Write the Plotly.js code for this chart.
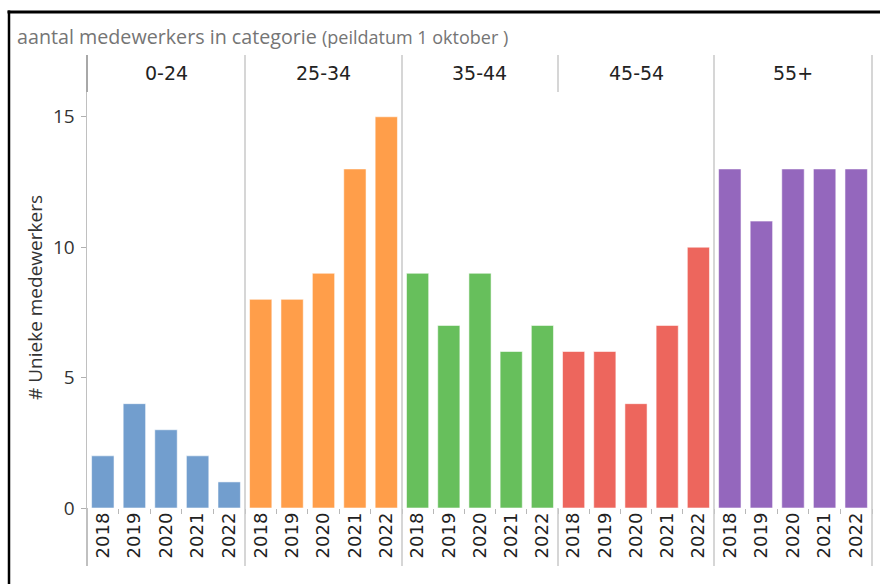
<!DOCTYPE html>
<html>
<head>
<meta charset="utf-8">
<script src="https://cdn.plot.ly/plotly-3.0.1.min.js"></script>
<style>
  html, body { margin: 0; padding: 0; background: #fff; }
  #chart { width: 880px; height: 584px; }
</style>
</head>
<body>
<div id="chart"></div>
<script>
// ---- data ----
const groups = ['0-24', '25-34', '35-44', '45-54', '55+'];
const years = ['2018', '2019', '2020', '2021', '2022'];
const v_0_24  = [2, 4, 3, 2, 1];
const v_25_34 = [8, 8, 9, 13, 15];
const v_35_44 = [9, 7, 9, 6, 7];
const v_45_54 = [6, 6, 4, 7, 10];
const v_55    = [13, 11, 13, 13, 13];
const values = [v_0_24, v_25_34, v_35_44, v_45_54, v_55];
const colors = ['#729ECE', '#FF9E4A', '#67BF5C', '#ED665D', '#9467BD'];
const yTicks = [0, 5, 10, 15];
const titleMain = 'aantal medewerkers in categorie';
const titleSub = '(peildatum 1 oktober )';
const yTitle = '# Unieke medewerkers';

// ---- layout helpers (pixel geometry) ----
const W = 880, H = 584;
const colEdges = [87, 245, 402, 558, 714, 872];
const plotTop = 92, plotBottom = 508;
const px = x => x / W;
const py = y => 1 - y / H;

const sansA = '"Open Sans", "Noto Sans", sans-serif';
const sansB = '"DejaVu Sans", Verdana, sans-serif';

const traces = [];
const layout = {
  width: W, height: H,
  margin: {l: 0, r: 0, t: 0, b: 0, pad: 0},
  paper_bgcolor: '#fff', plot_bgcolor: '#fff',
  showlegend: false,
  bargap: 0.29,
  font: {family: sansA, color: '#333'},
  yaxis: {
    domain: [py(plotBottom), py(plotTop)],
    range: [0, 15.95],
    tickvals: yTicks,
    ticks: 'outside', ticklen: 5, tickcolor: '#b0b0b0', tickwidth: 1,
    showline: true, linecolor: '#c0c0c0', linewidth: 1.5,
    showgrid: false, zeroline: false,
    tickfont: {family: sansA, size: 19, color: '#333'},
    ticklabelstandoff: 2,
    anchor: 'x', fixedrange: true
  },
  shapes: [],
  annotations: []
};

groups.forEach((g, i) => {
  const ax = i === 0 ? 'x' : 'x' + (i + 1);
  const axKey = i === 0 ? 'xaxis' : 'xaxis' + (i + 1);
  traces.push({
    type: 'bar',
    x: years,
    y: values[i],
    xaxis: ax, yaxis: 'y',
    marker: {color: colors[i], line: {color: 'rgba(255,255,255,0.55)', width: 1}},
    hoverinfo: 'x+y'
  });
  layout[axKey] = {
    domain: [px(colEdges[i]), px(colEdges[i + 1])],
    type: 'category',
    anchor: 'y',
    tickson: 'boundaries',
    ticks: 'outside', ticklen: 5, tickcolor: '#b8b8b8', tickwidth: 1,
    tickangle: -90,
    tickfont: {family: sansB, size: 18, color: '#222'},
    showline: false, showgrid: false, zeroline: false,
    fixedrange: true
  };
  layout.annotations.push({
    xref: 'paper', yref: 'paper',
    x: px((colEdges[i] + colEdges[i + 1]) / 2), y: py(73),
    xanchor: 'center', yanchor: 'middle',
    text: g, showarrow: false,
    font: {family: sansB, size: 19, color: '#222'}
  });
});

function vline(x, y0, y1, color, width) {
  layout.shapes.push({type: 'line', xref: 'paper', yref: 'paper',
    x0: px(x), x1: px(x), y0: py(y0), y1: py(y1),
    line: {color: color, width: width}});
}
function hline(y, x0, x1, color, width) {
  layout.shapes.push({type: 'line', xref: 'paper', yref: 'paper',
    x0: px(x0), x1: px(x1), y0: py(y), y1: py(y),
    line: {color: color, width: width}});
}

// header / facet separators
vline(87, 55, 92, '#a8a8a8', 2);
vline(87, 508, 566, '#c0c0c0', 2);
[245, 402, 714, 872].forEach(x => vline(x, 55, 566, '#c8c8c8', 1.5));
vline(558, 55, 92, '#c8c8c8', 1.5);
vline(558, 508, 566, '#c8c8c8', 1.5);

// outer black frame (top + left)
hline(12, 7.5, 880, '#000', 3);
vline(9, 10.5, 584, '#000', 2.5);

// title
layout.annotations.push({
  xref: 'paper', yref: 'paper', x: px(15), y: py(37),
  xanchor: 'left', yanchor: 'middle', showarrow: false,
  text: titleMain + ' <span style="font-size:18px">' + titleSub + '</span>',
  font: {family: sansA, size: 19.7, color: '#757575'}
});
// y-axis title
layout.annotations.push({
  xref: 'paper', yref: 'paper', x: px(35), y: py(298),
  xanchor: 'center', yanchor: 'middle', showarrow: false,
  textangle: -90, text: yTitle,
  font: {family: sansA, size: 19, color: '#333'}
});

Plotly.newPlot('chart', traces, layout, {displayModeBar: false, staticPlot: true});
</script>
</body>
</html>
